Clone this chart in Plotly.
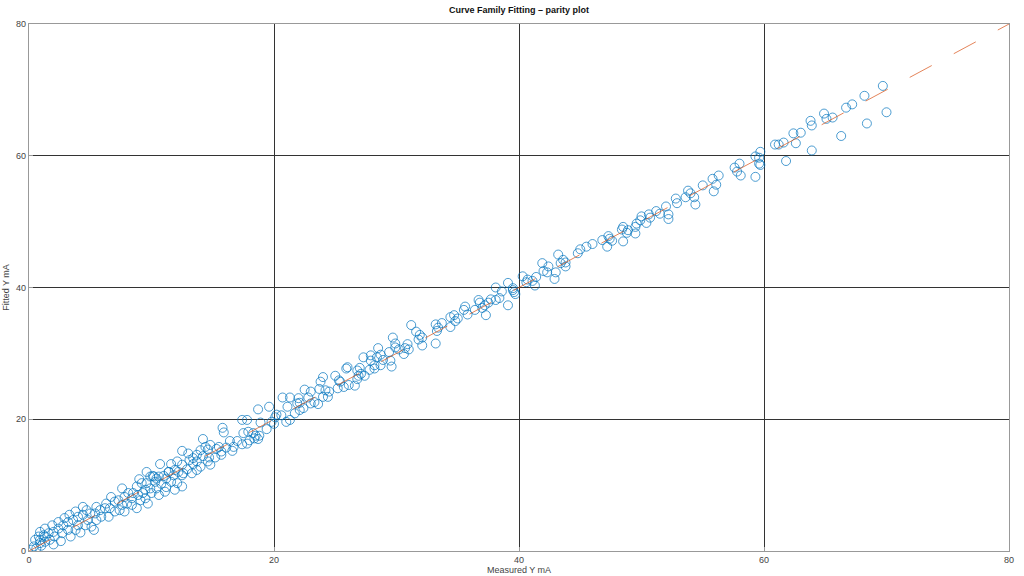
import plotly.graph_objects as go

measured = [
    69.7, 70.0, 68.2, 68.4, 67.2, 66.7, 66.3, 64.9, 65.1, 65.6, 63.8, 63.9, 63.9, 62.4, 63.0, 62.6,
    60.9, 61.2, 61.6, 61.8, 59.7, 59.3, 59.6, 59.7, 59.6, 59.3, 58.0, 57.6, 57.8, 58.1, 56.3, 55.8,
    56.1, 55.9, 55.0, 53.8, 54.0, 53.6, 54.3, 54.4, 52.8, 52.9, 52.0, 51.2, 51.5, 52.2, 52.2, 50.6,
    50.7, 50.0, 49.9, 50.4, 49.6, 49.5, 48.5, 48.4, 48.9, 48.8, 49.5, 48.5, 47.3, 47.4, 46.8, 47.6,
    47.2, 46.0, 45.5, 45.0, 44.8, 43.2, 43.6, 43.8, 43.4, 43.8, 41.9, 42.4, 42.0, 42.3, 43.0, 42.9,
    41.4, 41.1, 41.3, 40.3, 40.7, 40.6, 39.5, 39.6, 39.5, 39.1, 39.7, 39.1, 38.1, 38.6, 38.4, 38.1,
    37.7, 37.5, 37.2, 36.7, 36.8, 37.3, 37.0, 36.4, 35.6, 35.5, 35.8, 34.7, 34.4, 35.0, 34.8, 34.4,
    33.7, 33.2, 33.4, 31.2, 33.3, 33.2, 31.6, 31.9, 32.1, 31.8, 32.1, 30.9, 30.7, 31.0, 30.6, 29.7,
    29.9, 29.9, 30.2, 29.4, 28.5, 28.7, 27.9, 28.4, 29.5, 28.9, 27.9, 28.2, 28.7, 29.6, 27.3, 27.8,
    28.2, 27.0, 26.8, 26.0, 25.9, 26.9, 27.1, 26.6, 26.8, 27.4, 25.0, 25.3, 25.4, 25.7, 26.1, 25.2,
    24.0, 23.8, 24.2, 24.5, 24.4, 24.0, 23.7, 23.0, 22.5, 22.8, 23.3, 23.6, 23.0, 22.0, 21.3, 20.7,
    22.1, 21.1, 21.9, 19.6, 18.7, 20.2, 20.1, 20.6, 21.0, 21.3, 21.7, 22.1, 22.4, 17.4, 17.8, 18.9,
    19.4, 19.8, 20.0, 15.8, 15.9, 17.5, 17.9, 18.3, 18.5, 18.8, 18.4, 18.7, 18.0, 17.8, 17.4, 17.0,
    16.4, 16.7, 16.6, 16.1, 15.5, 15.3, 15.7, 15.7, 15.2, 14.2, 14.8, 14.4, 14.6, 14.0, 13.7, 14.2,
    14.7, 14.8, 14.6, 12.5, 13.0, 13.4, 13.1, 13.7, 13.4, 14.0, 13.7, 12.9, 12.5, 12.1, 11.6, 10.7,
    11.9, 11.4, 12.6, 13.3, 11.0, 10.1, 10.4, 12.5, 11.8, 11.2, 10.6, 10.2, 10.3, 10.8, 11.2, 11.6,
    12.1, 9.0, 7.6, 8.8, 9.2, 9.6, 9.5, 9.9, 10.0, 9.3, 8.9, 8.5, 8.1, 7.8, 8.4, 8.0,
    7.6, 7.3, 7.0, 6.7, 6.3, 6.6, 6.2, 5.8, 5.5, 5.4, 5.0, 4.7, 4.4, 4.0, 3.6, 3.2,
    2.8, 2.4, 2.0, 1.6, 1.2, 0.8, 0.5, 0.4, 0.6, 4.8, 5.5, 5.9, 4.6, 5.1, 4.0, 3.8,
    3.2, 2.7, 2.1, 1.7, 1.3, 0.9, 7.0, 7.4, 7.8, 9.1, 9.5, 9.7, 10.4, 10.6, 11.1, 11.9,
    12.5, 11.4, 12.2, 9.9, 9.6, 4.4, 3.8, 3.3, 2.9, 2.4, 1.9, 1.3, 0.9, 1.3, 0.9, 6.5,
    8.4, 8.8, 2.0, 2.6, 3.4, 4.2, 5.3, 0.2, 1.0,
]

fitted = [
    70.6, 66.6, 69.1, 64.9, 67.8, 67.3, 63.0, 66.4, 65.6, 65.8, 65.3, 64.6, 60.8, 63.4, 63.5, 61.9,
    61.7, 61.7, 62.0, 59.2, 60.6, 59.9, 59.7, 58.6, 58.8, 56.8, 58.8, 58.2, 57.6, 57.0, 57.0, 56.5,
    55.6, 54.6, 55.5, 54.7, 54.3, 53.7, 53.7, 52.6, 53.5, 52.8, 52.3, 51.6, 51.2, 51.1, 50.4, 51.1,
    50.6, 50.8, 50.2, 49.8, 49.7, 49.2, 49.2, 48.8, 48.7, 48.3, 48.2, 47.0, 47.8, 47.4, 47.2, 47.1,
    46.2, 46.6, 46.2, 45.8, 45.2, 45.0, 44.2, 43.8, 43.7, 43.2, 43.7, 43.2, 42.5, 42.3, 42.3, 41.3,
    41.6, 41.0, 40.3, 41.7, 41.2, 40.8, 39.9, 39.3, 39.6, 40.7, 39.0, 37.3, 40.0, 39.4, 38.4, 38.1,
    38.2, 37.7, 37.3, 38.1, 37.7, 35.8, 36.9, 36.6, 37.1, 36.6, 35.9, 35.8, 35.5, 35.3, 34.9, 34.0,
    34.6, 34.4, 33.9, 34.3, 33.4, 31.5, 33.3, 32.8, 32.4, 32.1, 31.2, 31.4, 30.8, 30.6, 29.9, 32.4,
    31.5, 30.9, 30.6, 30.2, 30.8, 29.8, 29.7, 29.4, 28.9, 29.0, 28.9, 28.2, 28.2, 28.0, 29.4, 27.5,
    27.7, 27.8, 27.4, 27.9, 27.7, 26.6, 26.9, 25.1, 26.1, 26.6, 26.6, 25.9, 25.7, 24.9, 25.2, 24.7,
    26.4, 25.7, 24.4, 24.2, 23.4, 23.4, 24.6, 24.2, 24.5, 23.3, 22.6, 22.3, 22.4, 23.2, 23.3, 23.3,
    22.5, 21.9, 22.4, 21.9, 21.5, 20.7, 20.3, 20.6, 19.6, 19.9, 20.9, 21.4, 21.7, 19.9, 19.9, 19.5,
    18.5, 19.6, 19.3, 18.7, 18.0, 17.9, 18.1, 17.9, 17.5, 17.5, 17.1, 17.0, 16.8, 16.3, 16.2, 16.7,
    16.7, 15.8, 15.2, 15.7, 15.8, 15.5, 15.1, 14.6, 14.2, 17.0, 16.1, 15.8, 15.4, 15.3, 14.6, 14.4,
    14.2, 13.1, 13.6, 15.2, 14.8, 14.1, 13.8, 13.6, 13.2, 12.8, 12.3, 12.4, 13.1, 13.6, 13.2, 13.2,
    12.3, 12.0, 11.8, 11.8, 11.4, 11.4, 11.0, 11.5, 11.5, 11.0, 11.3, 11.3, 10.5, 10.2, 9.7, 10.5,
    10.3, 10.9, 9.5, 9.8, 10.3, 10.3, 9.3, 9.5, 8.8, 8.8, 8.5, 8.8, 8.8, 8.2, 8.0, 7.2,
    7.0, 7.7, 7.5, 8.2, 7.2, 6.5, 6.5, 6.2, 6.7, 5.7, 5.7, 6.2, 5.5, 5.2, 4.7, 4.4,
    3.9, 3.4, 2.9, 2.7, 2.4, 2.2, 1.7, 0.7, 0.4, 4.7, 4.7, 5.2, 3.9, 3.7, 3.9, 3.2,
    3.2, 2.7, 2.2, 1.7, 1.4, 1.2, 6.0, 6.2, 6.0, 7.7, 8.0, 7.2, 9.5, 8.5, 9.0, 9.3,
    9.8, 12.0, 12.0, 11.3, 12.0, 6.7, 6.0, 5.5, 5.0, 4.4, 3.9, 3.4, 2.9, 2.2, 1.7, 5.2,
    7.0, 6.5, 1.0, 1.5, 2.2, 2.8, 3.2, 0.2, 0.8,
]

parity = [0, 80]
ticks = [0, 20, 40, 60, 80]

title_text = "Curve Family Fitting – parity plot"
x_title = "Measured Y mA"
y_title = "Fitted Y mA"

FONT = "Liberation Sans, Arial, Helvetica, sans-serif"

fig = go.Figure()
fig.add_trace(go.Scatter(
    x=measured, y=fitted, mode="markers",
    marker=dict(symbol="circle-open", size=9, color="#0072BD",
                line=dict(width=0.7, color="#0072BD")),
    showlegend=False, hoverinfo="skip",
))
fig.add_trace(go.Scatter(
    x=parity, y=parity, mode="lines",
    line=dict(color="rgba(217,83,25,0.8)", width=0.9, dash="25px,25px"),
    showlegend=False, hoverinfo="skip",
))

axis_common = dict(
    range=[0, 80], tickvals=ticks, ticktext=[str(t) for t in ticks],
    showgrid=True, gridcolor="#333333", gridwidth=0.8,
    zeroline=False, showline=True, linecolor="#999999", linewidth=1.2, mirror=True,
    ticks="inside", ticklen=4, tickcolor="#999999",
    tickfont=dict(family=FONT, size=9, color="#444444"),
    fixedrange=True, automargin=False,
)

fig.update_layout(
    width=1024, height=576,
    margin=dict(l=29, r=15, t=24, b=25, autoexpand=False),
    paper_bgcolor="white", plot_bgcolor="white",
    title=dict(text="<b>" + title_text + "</b>", x=0.5068, xanchor="center",
               y=0.983, yanchor="middle", automargin=False,
               font=dict(family=FONT, size=9, color="#111111")),
    xaxis=dict(**axis_common,
               title=dict(text=x_title, standoff=2,
                          font=dict(family=FONT, size=9, color="#444444"))),
    yaxis=dict(**axis_common,
               title=dict(text=y_title, standoff=4,
                          font=dict(family=FONT, size=9, color="#444444"))),
)

fig.write_html(
    "out.html",
    config={"displayModeBar": False},
    post_script="document.body.style.margin='0';document.body.style.padding='0';"
                "document.body.style.overflow='hidden';",
)
